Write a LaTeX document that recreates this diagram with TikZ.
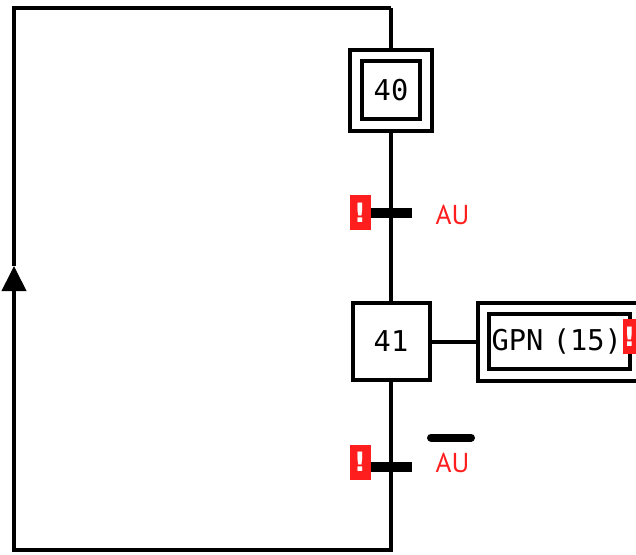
\documentclass[tikz,border=0pt]{standalone}
\usepackage{xcolor}
\usepackage{fontspec}
\usepackage{tikz}
\usetikzlibrary{arrows.meta,calc}
\setmonofont{DejaVu Sans Mono}
\newfontfamily\condfont{PT Sans}
\newfontfamily\markfont{DejaVu Sans}
\definecolor{cR}{HTML}{FF1E1E}
\tikzset{
  flow/.style={line width=3pt},
  stepbox/.style={draw,fill=white,line width=3pt,minimum size=57.75pt,inner sep=0pt,outer sep=1.5pt,
    font=\ttfamily\fontsize{21.5}{24}\selectfont},
  initstep/.style={stepbox,double,double distance=5.5pt,minimum size=52.3pt,outer sep=5.75pt},
  action/.style={draw,fill=white,line width=3pt,double,double distance=5.5pt,outer sep=5.75pt,
    minimum width=114pt,minimum height=50pt,inner xsep=6pt,text width=102pt,align=left,
    font=\ttfamily\fontsize{21.5}{24}\selectfont},
  bar/.style={fill=black,minimum width=31.5pt,minimum height=7.5pt,inner sep=0pt},
  alarm/.style={fill=cR,text=white,minimum width=15.75pt,minimum height=26.25pt,inner sep=0pt,
    font=\markfont\bfseries\fontsize{20}{20}\selectfont},
  cond/.style={text=cR,inner sep=0pt,font=\condfont\fontsize{20.5}{22}\selectfont},
  negbar/.style={line width=6pt,line cap=round}
}
\newcommand{\trans}[3]{%
  \node[bar] (#1) at (#2) {};
  \node[alarm] (#1w) at ($(#2)+(-31,#3)$) {!};}

\begin{document}
\begin{tikzpicture}[x=0.75pt,y=-0.75pt]
  \useasboundingbox (0,0) rectangle (636,554);
  % steps and action
  \node[initstep] (s40) at (391,90.25) {40};
  \node[stepbox] (s41) at (391,341.5) {41};
  \node[action] (a41) at (559.5,341.5) {GPN (15)};
  % transitions
  \trans{t1}{391,213}{-0.5}
  \trans{t2}{391,467}{-5}
  \node[cond] (au1) at (452.5,215) {AU};
  \node[cond] (au2) at (452.5,463) {AU};
  \draw[negbar] ([shift={(-21.5,-25.5)}]au2.center) -- ++(40,0);
  % loop back
  \coordinate (bot) at (391,550);
  \coordinate (botL) at (14,550);
  \coordinate (tip) at (14,266);
  \coordinate (topL) at (14,8);
  \coordinate (top) at (391,8);
  \draw[flow,line join=miter] (top) -- (s40);
  \draw[flow] (s40) -- (t1) -- (s41);
  \draw[flow] (s41) -- (t2);
  \draw[flow,line join=miter,-{Triangle[length=18.75pt,width=18pt]}] (t2) -- (bot) -- (botL) -- (tip);
  \draw[flow,line join=miter] (tip) -- (topL) -- (top);
  \draw[flow] (s41) -- (a41);
  \node[alarm,minimum width=9.75pt] (a41w) at (629.5,336.5) {!};
\end{tikzpicture}
\end{document}
